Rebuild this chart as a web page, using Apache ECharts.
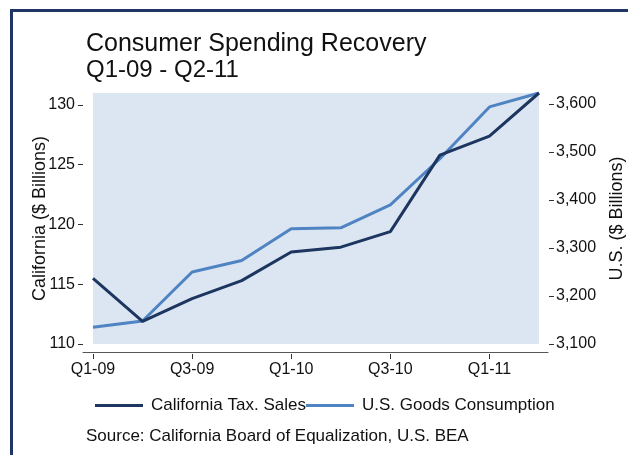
<!DOCTYPE html>
<html>
<head>
<meta charset="utf-8">
<title>Consumer Spending Recovery</title>
<script src="https://cdn.jsdelivr.net/npm/echarts@6/dist/echarts.min.js"></script>
<style>
  html, body { margin: 0; padding: 0; background: #ffffff; }
  #chart { width: 628px; height: 455px; }
</style>
</head>
<body>
<div id="chart"></div>
<script>
// Quarterly spending, Q1-09 through Q2-11
const quarters = ['Q1-09', 'Q2-09', 'Q3-09', 'Q4-09', 'Q1-10', 'Q2-10', 'Q3-10', 'Q4-10', 'Q1-11', 'Q2-11'];
// California taxable sales ($ billions)
const caTaxSales = [115.5, 111.9, 113.8, 115.3, 117.7, 118.1, 119.4, 125.8, 127.4, 131.0];
// U.S. goods consumption ($ billions)
const usGoods = [3135, 3148, 3250, 3274, 3340, 3342, 3390, 3486, 3594, 3623];

const caTicks = [110, 115, 120, 125, 130];
const usTicks = [3100, 3200, 3300, 3400, 3500, 3600];

const FONT = '"Liberation Sans", Arial, Helvetica, sans-serif';
const DARK = '#1c365f';
const LIGHT = '#4f83c2';
const TEXT = '#111111';

const chart = echarts.init(document.getElementById('chart'), null, { renderer: 'canvas' });

chart.setOption({
  backgroundColor: '#ffffff',
  animation: false,
  textStyle: { fontFamily: FONT, color: TEXT },
  title: [
    { text: 'Consumer Spending Recovery', left: 86, top: 29, padding: 0,
      textStyle: { fontFamily: FONT, fontSize: 25, fontWeight: 'normal', color: TEXT, lineHeight: 30 } },
    { text: 'Q1-09 - Q2-11', left: 86, top: 56, padding: 0,
      textStyle: { fontFamily: FONT, fontSize: 24, fontWeight: 'normal', color: TEXT, lineHeight: 28 } },
    { text: 'Source: California Board of Equalization, U.S. BEA', left: 86, top: 426, padding: 0,
      textStyle: { fontFamily: FONT, fontSize: 17, fontWeight: 'normal', color: TEXT, lineHeight: 20 } }
  ],
  legend: {
    left: 95, top: 397, padding: 0,
    icon: 'rect', itemWidth: 48, itemHeight: 3, itemGap: 0,
    textStyle: { fontFamily: FONT, fontSize: 17, color: TEXT, padding: [0, 0, 0, 3] },
    data: ['California Tax. Sales', 'U.S. Goods Consumption']
  },
  grid: [
    { left: 93, right: 89, top: 93, bottom: 111, show: true, outerBoundsMode: 'none',
      backgroundColor: '#dce6f2', borderWidth: 0 },
    // carries the longer x-axis baseline below the plot
    { left: 83, right: 80, top: 93, bottom: 103, show: false, outerBoundsMode: 'none' }
  ],
  xAxis: [
    { type: 'category', gridIndex: 0, data: quarters, boundaryGap: false, offset: 10,
      axisLine: { show: false },
      axisTick: { show: true, interval: 1, length: 5, lineStyle: { color: '#333', width: 1 } },
      axisLabel: { interval: 1, margin: 8, fontFamily: FONT, fontSize: 16, color: TEXT },
      splitLine: { show: false } },
    { type: 'value', gridIndex: 1, min: 0, max: 1,
      axisLine: { show: true, lineStyle: { color: '#555', width: 1 } },
      axisTick: { show: false }, axisLabel: { show: false }, splitLine: { show: false } }
  ],
  yAxis: [
    { type: 'value', gridIndex: 0, position: 'left', min: 110, max: caTaxSales[caTaxSales.length - 1], offset: 10,
      name: 'California ($ Billions)', nameLocation: 'middle', nameRotate: 90, nameGap: 34,
      nameMoveOverlap: false,
      nameTextStyle: { fontFamily: FONT, fontSize: 18, color: TEXT },
      axisLine: { show: false },
      axisTick: { show: true, length: 5, customValues: caTicks, lineStyle: { color: '#333', width: 1 } },
      axisLabel: { margin: 8, customValues: caTicks, fontFamily: FONT, fontSize: 16, color: TEXT },
      splitLine: { show: false } },
    { type: 'value', gridIndex: 0, position: 'right', min: 3100, max: usGoods[usGoods.length - 1], offset: 10,
      name: 'U.S. ($ Billions)', nameLocation: 'middle', nameRotate: 90, nameGap: 59,
      nameMoveOverlap: false,
      nameTextStyle: { fontFamily: FONT, fontSize: 18, color: TEXT },
      axisLine: { show: false },
      axisTick: { show: true, length: 5, customValues: usTicks, lineStyle: { color: '#333', width: 1 } },
      axisLabel: { margin: 7, customValues: usTicks, fontFamily: FONT, fontSize: 16, color: TEXT,
        formatter: v => v.toLocaleString('en-US') },
      splitLine: { show: false } },
    { type: 'value', gridIndex: 1, show: false }
  ],
  graphic: [
    { type: 'rect', silent: true, z: 100,
      shape: { x: 11.5, y: 10.5, width: 800, height: 600 },
      style: { fill: 'none', stroke: '#1f3563', lineWidth: 3 } }
  ],
  series: [
    { name: 'California Tax. Sales', type: 'line', xAxisIndex: 0, yAxisIndex: 0,
      data: caTaxSales, showSymbol: false, symbol: 'none', color: DARK,
      lineStyle: { color: DARK, width: 3 }, z: 3 },
    { name: 'U.S. Goods Consumption', type: 'line', xAxisIndex: 0, yAxisIndex: 1,
      data: usGoods, showSymbol: false, symbol: 'none', color: LIGHT,
      lineStyle: { color: LIGHT, width: 3 }, z: 2 }
  ]
});
</script>
</body>
</html>
